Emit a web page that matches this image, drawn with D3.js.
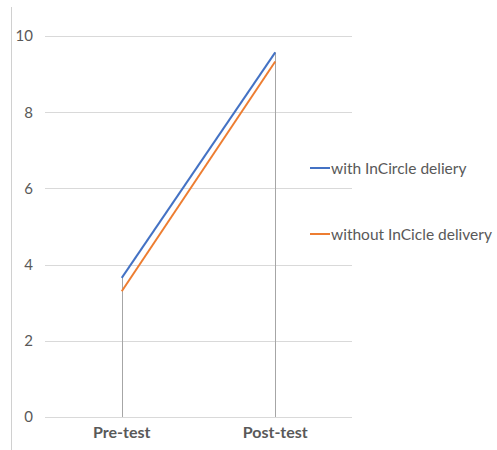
<!DOCTYPE html>
<html><head><meta charset="utf-8">
<script src="https://cdn.jsdelivr.net/npm/d3@7"></script>
<style>body{margin:0;background:#fff;}svg{display:block;font-family:Lato, "Open Sans", sans-serif;}</style>
</head><body>
<svg id="c" width="497" height="450"></svg>
<script>
const categories = ["Pre-test", "Post-test"];
const seriesNames = ["with InCircle deliery", "without InCicle delivery"];
const withValues = [3.65, 9.57];
const withoutValues = [3.3, 9.33];
const yTicks = [0, 2, 4, 6, 8, 10];
const colors = ["#4472C4", "#ED7D31"];

(function () {
const series = [withValues, withoutValues];
const svg = d3.select("#c");
const mLeft = 45, mRight = 352, mTop = 36, mBottom = 417;

const x = d3.scaleBand().domain(categories).range([mLeft, mRight]);
const y = d3.scaleLinear().domain([0, 10]).range([mBottom, mTop]);

svg.append("line").attr("x1", 11.5).attr("x2", 11.5).attr("y1", 7).attr("y2", 450)
  .attr("stroke", "#d0d0d0").attr("stroke-width", 1);

svg.append("g").selectAll("line").data(yTicks).join("line")
  .attr("x1", mLeft).attr("x2", mRight)
  .attr("y1", d => Math.round(y(d)) + 0.5).attr("y2", d => Math.round(y(d)) + 0.5)
  .attr("stroke", "#d9d9d9").attr("stroke-width", 1);

const yAxis = d3.axisLeft(y).tickValues(yTicks).tickSize(0).tickPadding(0);
const gy = svg.append("g").attr("transform", "translate(33,0)").call(yAxis);
gy.select(".domain").remove();
gy.selectAll("text").attr("fill", "#595959").style("font-size", "15px").style("font-family", "Lato, 'Open Sans', sans-serif");

svg.append("g").selectAll("line").data(categories).join("line")
  .attr("x1", d => Math.round(x(d) + x.bandwidth() / 2) + 0.5)
  .attr("x2", d => Math.round(x(d) + x.bandwidth() / 2) + 0.5)
  .attr("y1", y(0))
  .attr("y2", (d, i) => y(d3.max(series, s => s[i])))
  .attr("stroke", "#a6a6a6").attr("stroke-width", 1);

const xAxis = d3.axisBottom(x).tickSize(0).tickPadding(0);
const gx = svg.append("g").attr("transform", "translate(0,427)").call(xAxis);
gx.select(".domain").remove();
gx.selectAll("text").attr("fill", "#595959").style("font-size", "16px").style("font-weight", "bold")
  .style("font-family", "Lato, 'Open Sans', sans-serif");

const line = d3.line().x((d, i) => x(categories[i]) + x.bandwidth() / 2).y(d => y(d));
svg.append("g").selectAll("path").data(series).join("path")
  .attr("d", d => line(d)).attr("fill", "none")
  .attr("stroke", (d, i) => colors[i]).attr("stroke-width", 2);

const legY = [168, 234];
const leg = svg.append("g").selectAll("g").data(seriesNames).join("g")
  .attr("transform", (d, i) => `translate(310,${legY[i]})`);
leg.append("line").attr("x1", 0).attr("x2", 20).attr("y1", 0).attr("y2", 0)
  .attr("stroke", (d, i) => colors[i]).attr("stroke-width", 2);
leg.append("text").attr("x", 21).attr("y", 5.5).text(d => d)
  .attr("fill", "#595959").style("font-size", "15.5px");
})();
</script>
</body></html>
